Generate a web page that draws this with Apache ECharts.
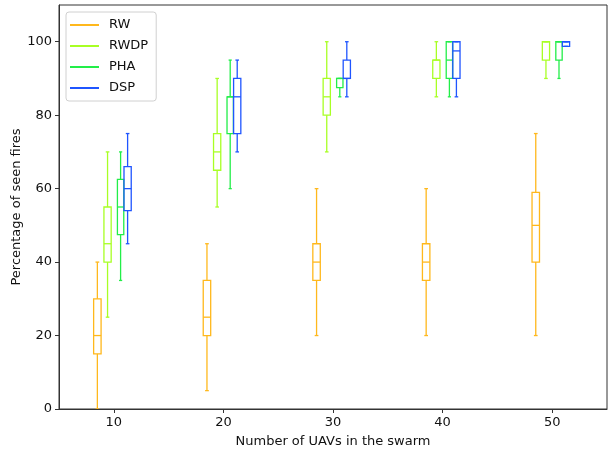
<!DOCTYPE html>
<html>
<head>
<meta charset="utf-8">
<script src="https://cdn.jsdelivr.net/npm/echarts@6/dist/echarts.min.js"></script>
<style>
  html, body { margin: 0; padding: 0; background: #fff; }
  #chart { width: 608px; height: 454px; }
</style>
</head>
<body>
<div id="chart"></div>
<script>
// swarm sizes on the x axis
const swarmSizes = [10, 20, 30, 40, 50]
const yTicks = [0, 20, 40, 60, 80, 100]

// each entry: [min, q1, median, q3, max]
const rw = [[0, 15, 20, 30, 40], [5, 20, 25, 35, 45], [20, 35, 40, 45, 60], [20, 35, 40, 45, 60], [20, 40, 50, 59, 75]]
const rwdp = [[25, 40, 45, 55, 70], [55, 65, 70, 75, 90], [70, 80, 85, 90, 100], [85, 90, 95, 95, 100], [90, 95, 100, 100, 100]]
const pha = [[35, 47.5, 55, 62.5, 70], [60, 75, 85, 85, 95], [85, 87.5, 90, 90, 90], [85, 90, 95, 100, 100], [90, 95, 100, 100, 100]]
const dsp = [[45, 54, 60, 66, 75], [70, 75, 85, 90, 95], [85, 90, 90, 95, 100], [85, 90, 97.5, 100, 100], [98.75, 98.75, 100, 100, 100]]

const chart = echarts.init(document.getElementById('chart'))

const makeRender = (offset, halfW, color) => {
  return function (params, api) {
    const x = api.value(0) + offset
    const left = api.coord([x - halfW, 0])[0]
    const right = api.coord([x + halfW, 0])[0]
    const mid = api.coord([x, 0])[0]
    const y = v => api.coord([x, v])[1]
    const yMin = y(api.value(1))
    const yQ1 = y(api.value(2))
    const yMed = y(api.value(3))
    const yQ3 = y(api.value(4))
    const yMax = y(api.value(5))
    const cap = (right - left) / 4
    const st = { stroke: color, lineWidth: 1.3, fill: null }
    const line = (x1, y1, x2, y2) => ({ type: 'line', shape: { x1, y1, x2, y2 }, style: st })
    return {
      type: 'group',
      children: [
        { type: 'rect', shape: { x: left, y: yQ3, width: right - left, height: yQ1 - yQ3 }, style: st },
        line(left, yMed, right, yMed),
        line(mid, yQ1, mid, yMin),
        line(mid - cap, yMin, mid + cap, yMin),
        line(mid, yQ3, mid, yMax),
        line(mid - cap, yMax, mid + cap, yMax)
      ]
    }
  }
}

const makeSeries = (name, values, offset, halfW, color) => ({
  name: name,
  type: 'custom',
  itemStyle: { color: color },
  renderItem: makeRender(offset, halfW, color),
  encode: { x: 0, y: [1, 2, 3, 4, 5] },
  data: values.map((v, i) => [swarmSizes[i]].concat(v)),
  clip: true,
  silent: true
})

const font = 'DejaVu Sans'

const option = {
  animation: false,
  backgroundColor: '#fff',
  textStyle: { fontFamily: font },
  grid: {
    left: 59,
    right: 1,
    top: 5,
    bottom: 45,
    outerBoundsMode: 'none',
    containLabel: false,
    show: true,
    borderColor: '#333',
    borderWidth: 1
  },
  legend: {
    orient: 'vertical',
    left: 66,
    top: 12,
    padding: [6, 8, 6, 4],
    itemGap: 7,
    itemWidth: 29,
    itemHeight: 2,
    icon: 'rect',
    backgroundColor: '#fff',
    borderColor: '#d0d0d0',
    borderWidth: 1,
    borderRadius: 3,
    textStyle: { fontFamily: font, fontSize: 13, color: '#111', lineHeight: 14, padding: [0, 0, 0, 5] },
    data: ['RW', 'RWDP', 'PHA', 'DSP']
  },
  xAxis: {
    type: 'value',
    min: 5,
    max: 55,
    name: 'Number of UAVs in the swarm',
    nameLocation: 'middle',
    nameGap: 26,
    nameMoveOverlap: false,
    nameTextStyle: { fontFamily: font, fontSize: 13, color: '#111' },
    splitLine: { show: false },
    axisLine: { show: true, onZero: false, lineStyle: { color: '#333', width: 1 } },
    axisTick: { show: true, length: 4, customValues: swarmSizes, lineStyle: { color: '#333' } },
    axisLabel: { customValues: swarmSizes, margin: 7, fontFamily: font, fontSize: 13, color: '#111' }
  },
  yAxis: {
    type: 'value',
    min: 0,
    max: 110,
    name: 'Percentage of seen fires',
    nameLocation: 'middle',
    nameGap: 36,
    nameMoveOverlap: false,
    nameTextStyle: { fontFamily: font, fontSize: 13, color: '#111' },
    splitLine: { show: false },
    axisLine: { show: true, onZero: false, lineStyle: { color: '#333', width: 1 } },
    axisTick: { show: true, length: 4, customValues: yTicks, lineStyle: { color: '#333' } },
    axisLabel: { customValues: yTicks, margin: 7, fontFamily: font, fontSize: 13, color: '#111' }
  },
  series: [
    makeSeries('RW', rw, -1.5, 0.34, '#FFB81C'),
    makeSeries('RWDP', rwdp, -0.57, 0.33, '#A8FF24'),
    makeSeries('PHA', pha, 0.62, 0.29, '#22EE48'),
    makeSeries('DSP', dsp, 1.26, 0.33, '#1F55FF')
  ]
}

chart.setOption(option)
</script>
</body>
</html>
